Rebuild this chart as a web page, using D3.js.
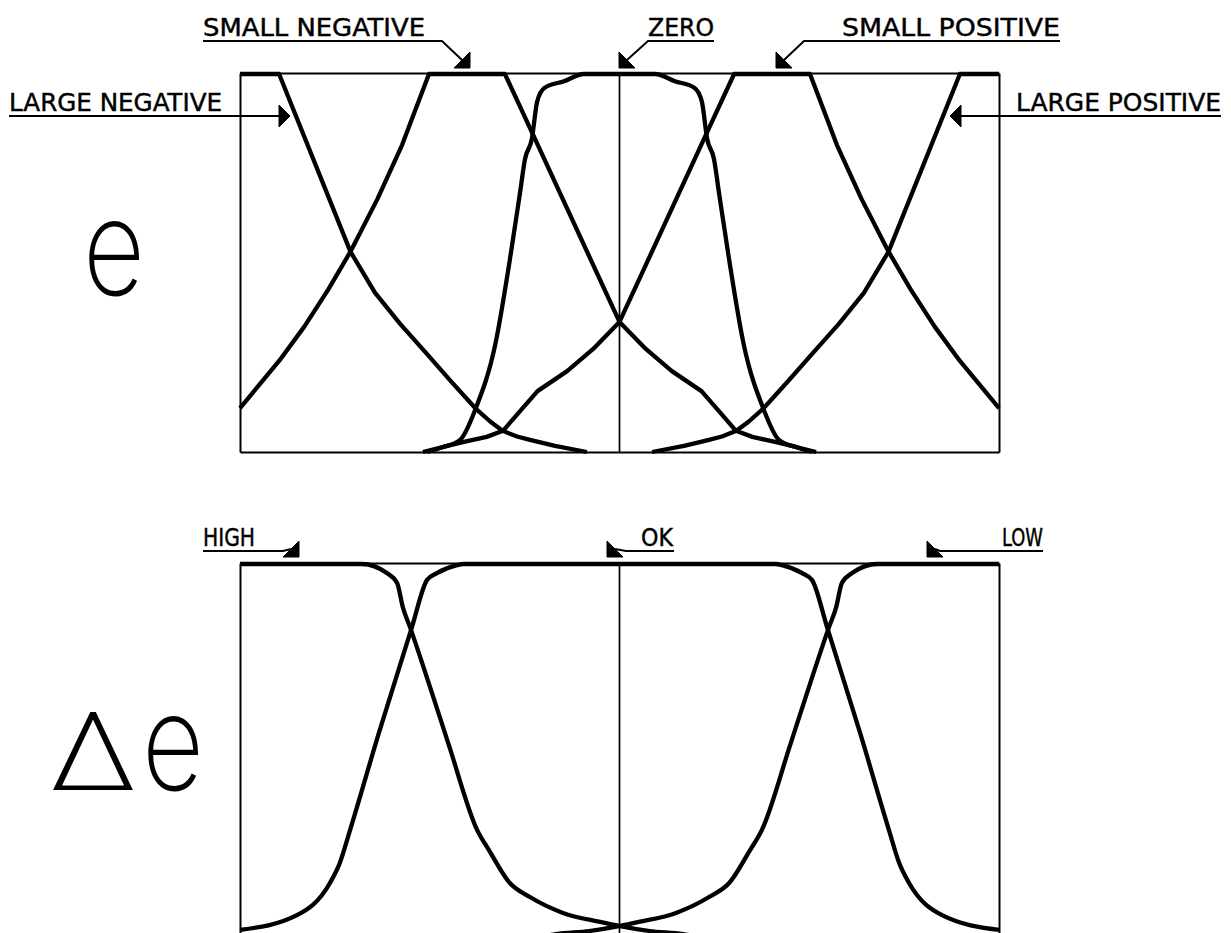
<!DOCTYPE html>
<html>
<head>
<meta charset="utf-8">
<script src="https://cdn.jsdelivr.net/npm/d3@7/dist/d3.min.js"></script>
<style>
  html, body { margin: 0; padding: 0; background: #fff; }
  svg { display: block; }
</style>
</head>
<body>
<svg id="chart" width="1231" height="933"></svg>
<script>
// ---------- Error e : fuzzy set names and membership curves [e, mu] ----------
const errorSets = ["LARGE NEGATIVE", "SMALL NEGATIVE", "ZERO", "SMALL POSITIVE", "LARGE POSITIVE"];

const largeNegative = [
  [-1.000, 1.000], [-0.897, 1.000], [-0.709, 0.530], [-0.644, 0.421], [-0.578, 0.339],
  [-0.507, 0.259], [-0.444, 0.187], [-0.379, 0.115], [-0.340, 0.080], [-0.308, 0.056],
  [-0.270, 0.041], [-0.236, 0.032], [-0.170, 0.016], [-0.086, 0.000]
];
const smallNegative = [
  [-1.000, 0.116], [-0.897, 0.241], [-0.831, 0.331], [-0.768, 0.429], [-0.709, 0.530],
  [-0.638, 0.669], [-0.573, 0.812], [-0.502, 1.000], [-0.302, 1.000], [-0.223, 0.829],
  [0.000, 0.344], [0.070, 0.272], [0.138, 0.214], [0.216, 0.161], [0.262, 0.108],
  [0.307, 0.056], [0.350, 0.040], [0.413, 0.026], [0.518, 0.000]
];
const zeroSet = [
  [-0.507, 0.000], [-0.465, 0.013], [-0.420, 0.032], [-0.379, 0.115], [-0.327, 0.286],
  [-0.289, 0.508], [-0.262, 0.687], [-0.249, 0.775], [-0.231, 0.828], [-0.217, 0.927],
  [-0.198, 0.963], [-0.146, 0.981], [-0.094, 1.000], [0.094, 1.000], [0.146, 0.981],
  [0.198, 0.963], [0.217, 0.927], [0.231, 0.828], [0.249, 0.775], [0.262, 0.687],
  [0.289, 0.508], [0.327, 0.286], [0.379, 0.115], [0.420, 0.032], [0.465, 0.013],
  [0.507, 0.000]
];
const smallPositive = [
  [-0.518, 0.000], [-0.413, 0.026], [-0.350, 0.040], [-0.307, 0.056], [-0.262, 0.108],
  [-0.216, 0.161], [-0.138, 0.214], [-0.070, 0.272], [0.000, 0.344], [0.223, 0.829],
  [0.302, 1.000], [0.502, 1.000], [0.573, 0.812], [0.638, 0.669], [0.709, 0.530],
  [0.768, 0.429], [0.831, 0.331], [0.897, 0.241], [1.000, 0.116]
];
const largePositive = [
  [0.086, 0.000], [0.170, 0.016], [0.236, 0.032], [0.270, 0.041], [0.308, 0.056],
  [0.340, 0.080], [0.379, 0.115], [0.444, 0.187], [0.507, 0.259], [0.578, 0.339],
  [0.644, 0.421], [0.709, 0.530], [0.897, 1.000], [1.000, 1.000]
];

// ---------- Change of error De : fuzzy set names and membership curves ----------
const rateSets = ["HIGH", "OK", "LOW"];

const highSet = [
  [-1.000, 1.000], [-0.679, 1.000], [-0.613, 0.976], [-0.586, 0.950], [-0.571, 0.886],
  [-0.552, 0.833], [-0.502, 0.683], [-0.449, 0.519], [-0.375, 0.296], [-0.344, 0.243],
  [-0.289, 0.156], [-0.236, 0.119], [-0.149, 0.077], [-0.051, 0.053], [0.001, 0.042],
  [0.080, 0.029], [0.167, 0.021], [0.265, 0.000]
];
const okSet = [
  [-1.000, 0.032], [-0.850, 0.071], [-0.763, 0.156], [-0.737, 0.209], [-0.710, 0.296],
  [-0.634, 0.553], [-0.547, 0.833], [-0.507, 0.958], [-0.481, 0.976], [-0.428, 0.997],
  [-0.412, 1.000], [0.412, 1.000], [0.428, 0.997], [0.481, 0.976], [0.507, 0.958],
  [0.547, 0.833], [0.634, 0.553], [0.710, 0.296], [0.737, 0.209], [0.763, 0.156],
  [0.850, 0.071], [1.000, 0.032]
];
const lowSet = [
  [-0.265, 0.000], [-0.167, 0.021], [-0.080, 0.029], [-0.001, 0.042], [0.051, 0.053],
  [0.149, 0.077], [0.236, 0.119], [0.289, 0.156], [0.344, 0.243], [0.375, 0.296],
  [0.449, 0.519], [0.502, 0.683], [0.552, 0.833], [0.571, 0.886], [0.586, 0.950],
  [0.613, 0.976], [0.679, 1.000], [1.000, 1.000]
];

const errorCurves = [largeNegative, smallNegative, zeroSet, smallPositive, largePositive];
const rateCurves = [highSet, okSet, lowSet];

// ---------- layout ----------
const svg = d3.select("#chart");
const INK = "#000";
const labelFont = "'DejaVu Sans Condensed', 'Liberation Sans Narrow', 'DejaVu Sans', sans-serif";
const bigFont = "Inter, Lato, Roboto, 'DejaVu Sans', sans-serif";

// straight segments keep the sharp shoulders; rounded sets use a monotone spline
const panels = [
  { x: d3.scaleLinear().domain([-1, 1]).range([240, 999]),
    y: d3.scaleLinear().domain([0, 1]).range([452, 74]),
    top: 73, curves: errorCurves,
    interp: [d3.curveLinear, d3.curveLinear, d3.curveMonotoneX, d3.curveLinear, d3.curveLinear] },
  { x: d3.scaleLinear().domain([-1, 1]).range([240, 999]),
    y: d3.scaleLinear().domain([0, 1]).range([942, 564]),
    top: 563, curves: rateCurves,
    interp: [d3.curveMonotoneX, d3.curveMonotoneX, d3.curveMonotoneX] }
];

panels.forEach(p => {
  const g = svg.append("g");
  const [x0, x1] = p.x.range();
  const yb = p.y(0);

  // frame drawn from bare axes (no ticks)
  const frame = (axis, tx, ty) => {
    const a = g.append("g").attr("transform", `translate(${tx},${ty})`)
      .call(axis.ticks(0).tickSizeOuter(0));
    a.select(".domain").attr("stroke", INK).attr("stroke-width", 2);
  };
  const yFrame = d3.scaleLinear().domain([0, 1]).range([yb, p.top]);
  frame(d3.axisTop(p.x), 0, p.top);
  frame(d3.axisBottom(p.x), 0, yb);
  frame(d3.axisLeft(yFrame), x0, 0);
  frame(d3.axisRight(yFrame), x1, 0);

  // centre line at zero
  g.append("line")
    .attr("x1", p.x(0)).attr("x2", p.x(0))
    .attr("y1", p.top).attr("y2", yb)
    .attr("stroke", INK).attr("stroke-width", 1.7);

  g.selectAll("path.mf").data(p.curves).join("path")
    .attr("class", "mf")
    .attr("d", (d, i) => d3.line()
      .x(v => p.x(v[0])).y(v => p.y(v[1]))
      .curve(p.interp[i])(d))
    .attr("fill", "none")
    .attr("stroke", INK)
    .attr("stroke-width", 4.3)
    .attr("stroke-linejoin", "round")
    .attr("stroke-linecap", "butt");
});

// ---------- callout labels ----------
// dir: dr = arrow to lower right, dl = arrow to lower left, r / l = horizontal
const errorLabelLayout = [
  { x: 9,   y: 111, len: 213, ul: [9, 279],    tip: [290, 116], dir: "r" },
  { x: 203, y: 36,  len: 222, ul: [203, 442],  tip: [470, 68],  dir: "dr" },
  { x: 648, y: 36,  len: 66,  ul: [648, 714],  tip: [619, 68],  dir: "dl" },
  { x: 842, y: 36,  len: 218, ul: [804, 1060], tip: [776, 68],  dir: "dl" },
  { x: 1016, y: 111, len: 205, ul: [961, 1221], tip: [950, 116], dir: "l" }
];
const rateLabelLayout = [
  { x: 203, y: 546, len: 52, ul: [203, 283],  tip: [299, 557], dir: "dr" },
  { x: 641, y: 546, len: 32, ul: [626, 674],  tip: [607, 557], dir: "dl" },
  { x: 1002, y: 546, len: 41, ul: [940, 1043], tip: [927, 557], dir: "dl" }
];

const S = 16; // arrowhead leg

function drawCallout(name, L, uy) {
  const g = svg.append("g");
  g.append("text")
    .attr("x", L.x).attr("y", L.y)
    .attr("font-family", labelFont)
    .attr("font-size", 24)
    .attr("textLength", L.len)
    .attr("lengthAdjust", "spacingAndGlyphs")
    .attr("fill", INK)
    .attr("stroke", INK).attr("stroke-width", 0.4)
    .text(name);

  const [tx, ty] = L.tip;
  let head, lead;
  if (L.dir === "dr") {
    head = [[tx, ty], [tx - S, ty], [tx, ty - S]];
    lead = [[L.ul[0], uy], [L.ul[1], uy], [tx - S / 2, ty - S / 2]];
  } else if (L.dir === "dl") {
    head = [[tx, ty], [tx + S, ty], [tx, ty - S]];
    lead = [[L.ul[1], uy], [L.ul[0], uy], [tx + S / 2, ty - S / 2]];
  } else if (L.dir === "r") {
    head = [[tx, ty], [tx - 11, ty - 11], [tx - 11, ty + 11]];
    lead = [[L.ul[0], uy], [tx - 10, uy]];
  } else {
    head = [[tx, ty], [tx + 11, ty - 11], [tx + 11, ty + 11]];
    lead = [[L.ul[1], uy], [tx + 10, uy]];
  }
  g.append("path")
    .attr("d", d3.line()(lead))
    .attr("fill", "none").attr("stroke", INK).attr("stroke-width", 2);
  g.append("path")
    .attr("d", d3.line()(head) + "Z")
    .attr("fill", INK).attr("stroke", INK).attr("stroke-width", 1);
}

errorSets.forEach((n, i) => {
  const L = errorLabelLayout[i];
  drawCallout(n, L, L.dir === "r" || L.dir === "l" ? L.tip[1] : L.y + 5);
});
rateSets.forEach((n, i) => {
  const L = rateLabelLayout[i];
  drawCallout(n, L, L.y + 5);
});

// ---------- panel titles ----------
svg.append("text")
  .attr("x", 83).attr("y", 295)
  .attr("font-family", bigFont).attr("font-weight", 250)
  .attr("font-size", 133)
  .attr("textLength", 62).attr("lengthAdjust", "spacingAndGlyphs")
  .attr("fill", INK)
  .text("e");

const de = svg.append("text")
  .attr("y", 790)
  .attr("font-family", bigFont).attr("font-weight", 250)
  .attr("fill", INK);
de.append("tspan").attr("x", 49).attr("font-size", 107)
  .attr("textLength", 88).attr("lengthAdjust", "spacingAndGlyphs").text("Δ");
de.append("tspan").attr("x", 142).attr("font-size", 133)
  .attr("textLength", 62).attr("lengthAdjust", "spacingAndGlyphs").text("e");
</script>
</body>
</html>
